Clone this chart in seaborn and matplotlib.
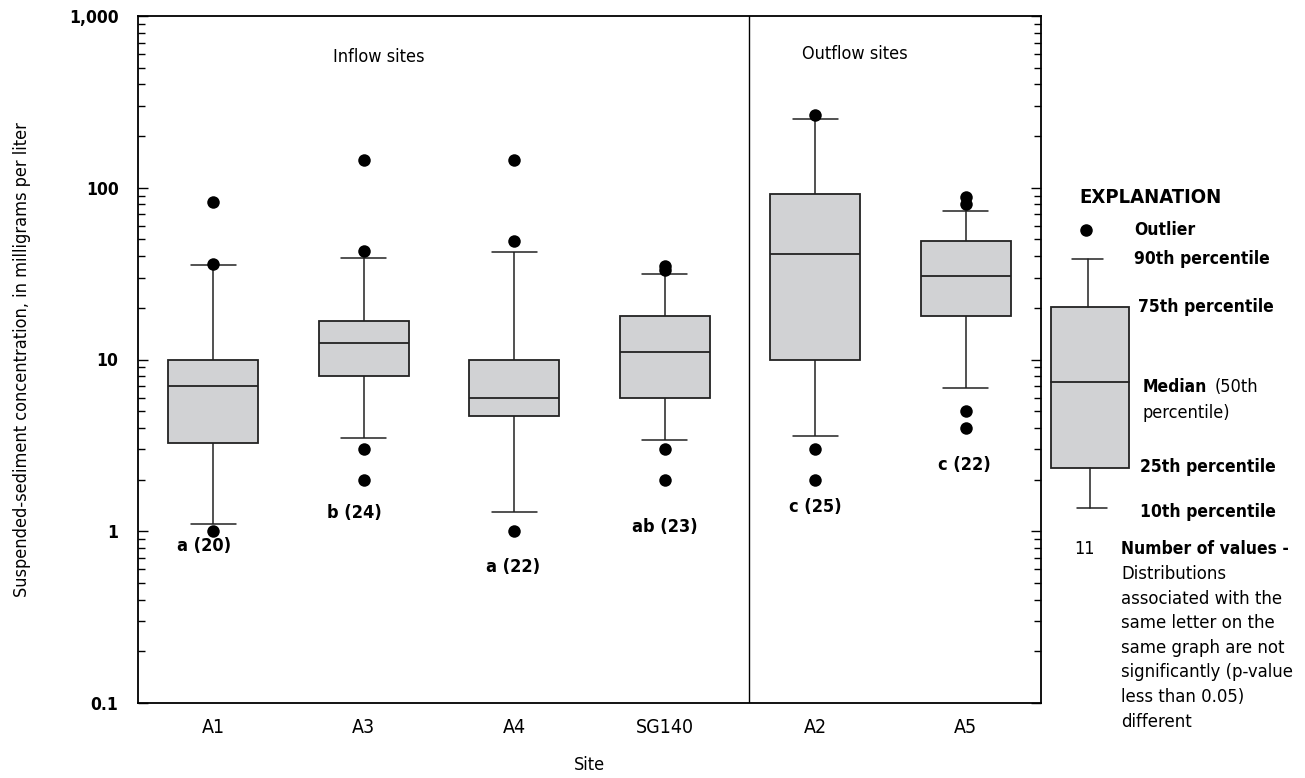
import numpy as np
import pandas as pd
import matplotlib
matplotlib.use("Agg")
import matplotlib.pyplot as plt
import seaborn as sns
from matplotlib.ticker import FixedLocator, FuncFormatter, LogLocator, NullFormatter
from matplotlib.patches import Rectangle

# ---------------- data ----------------
sites = ["A1", "A3", "A4", "SG140", "A2", "A5"]
p10 = [1.1, 3.5, 1.3, 3.4, 3.6, 6.8]
p25 = [3.25, 8.0, 4.7, 6.0, 10.0, 18.0]
p50 = [7.0, 12.4, 6.0, 11.0, 41.0, 30.5]
p75 = [10.0, 16.7, 10.0, 18.0, 92.0, 49.0]
p90 = [35.5, 39.0, 42.0, 31.5, 252.0, 73.0]
outliers = [[83, 36, 1.0], [146, 43, 3.0, 2.0], [145, 49, 1.0],
            [35, 33, 3.0, 2.0], [265, 3.0, 2.0], [88, 80, 5.0, 4.0]]
groups = ["a", "b", "a", "ab", "c", "c"]
counts = [20, 24, 22, 23, 25, 22]
ytick_vals = [0.1, 1, 10, 100, 1000]
ytick_labels = ["0.1", "1", "10", "100", "1,000"]

# ---------------- style ----------------
sns.set_theme(style="white")
plt.rcParams["font.family"] = ["DejaVu Sans"]
plt.rcParams["font.stretch"] = "condensed"
plt.rcParams["text.color"] = "black"
plt.rcParams["axes.labelcolor"] = "black"
plt.rcParams["xtick.color"] = "black"
plt.rcParams["ytick.color"] = "black"

FS = 13

rows = []
for s, a, b, c, d, e in zip(sites, p10, p25, p50, p75, p90):
    for v in (a, b, c, d, e):
        rows.append({"site": s, "value": v})
df_box = pd.DataFrame(rows)
df_out = pd.DataFrame([{"site": s, "value": v} for s, vals in zip(sites, outliers) for v in vals])

W, H = 1305, 778
fig = plt.figure(figsize=(W / 100, H / 100), dpi=100)
ax = fig.add_axes([138 / W, 1 - 703 / H, (1041 - 138) / W, (703 - 16) / H])
ax.set_yscale("log")

box_gray = "#d1d2d4"
ink = "#222222"
sns.boxplot(data=df_box, x="site", y="value", order=sites, whis=(0, 100), width=0.6,
            color=box_gray, showfliers=False, linecolor=ink, linewidth=1.3,
            saturation=1, ax=ax,
            medianprops=dict(color=ink, linewidth=1.3),
            whiskerprops=dict(color=ink, linewidth=1.1),
            capprops=dict(color=ink, linewidth=1.1))
sns.stripplot(data=df_out, x="site", y="value", order=sites, jitter=False, color="black",
              size=9, linewidth=0, ax=ax, zorder=5)

ax.set_xlim(-0.5, 5.5)
ax.set_ylim(0.1, 1000)
ax.yaxis.set_major_locator(FixedLocator(ytick_vals))
ax.yaxis.set_major_formatter(FuncFormatter(
    lambda v, p: ytick_labels[int(np.argmin([abs(np.log10(t) - np.log10(v)) for t in ytick_vals]))]))
ax.yaxis.set_minor_locator(LogLocator(base=10, subs=np.arange(2, 10)))
ax.yaxis.set_minor_formatter(NullFormatter())
ax.tick_params(axis="y", which="major", direction="in", length=7, width=1.0, left=True, right=True,
               pad=14, labelsize=12.5)
ax.tick_params(axis="y", which="minor", direction="in", length=5, width=1.0, left=True, right=True)
ax.tick_params(axis="x", length=0, pad=11, labelsize=14)
for lab in ax.get_yticklabels():
    lab.set_fontweight("bold")
for sp in ax.spines.values():
    sp.set_visible(True)
    sp.set_color("black")
    sp.set_linewidth(1.3)

ax.axvline(3.56, color="black", linewidth=1.0)
ax.set_xlabel("Site", fontsize=FS)
ax.set_ylabel("Suspended-sediment concentration, in milligrams per liter", fontsize=FS)
ax.xaxis.set_label_coords(0.5, (703 - 756) / 687)
ax.yaxis.set_label_coords((31 - 138) / 903, 0.5)

# group letters + counts
label_y = [0.82, 1.27, 0.62, 1.06, 1.39, 2.43]
label_dx = [-0.06, -0.06, -0.01, 0.0, 0.0, -0.01]
for i, (g, n) in enumerate(zip(groups, counts)):
    ax.text(i + label_dx[i], label_y[i], f"{g} ({n})", ha="center", va="center",
            fontsize=FS, fontweight="bold")

# overlay in pixel coordinates for headers and explanation
ov = fig.add_axes([0, 0, 1, 1], facecolor="none")
ov.set_xlim(0, W)
ov.set_ylim(H, 0)
ov.axis("off")
ov.text(379, 57, "Inflow sites", ha="center", va="center", fontsize=FS)
ov.text(855, 54, "Outflow sites", ha="center", va="center", fontsize=FS)

# explanation
EFS = 12.5
ov.text(1079, 197, "EXPLANATION", ha="left", va="center", fontsize=14.5, fontweight="bold")
ov.plot([1086], [230], "o", color="black", markersize=8)
ov.text(1134, 230, "Outlier", ha="left", va="center", fontsize=EFS, fontweight="bold")
ov.plot([1088, 1088], [307, 259], color=ink, lw=1.1)
ov.plot([1072, 1103], [259, 259], color=ink, lw=1.1)
ov.add_patch(Rectangle((1051, 307), 78, 161, facecolor=box_gray, edgecolor=ink, lw=1.3))
ov.plot([1051, 1129], [382, 382], color=ink, lw=1.3)
ov.plot([1090, 1090], [468, 508], color=ink, lw=1.1)
ov.plot([1077, 1107], [508, 508], color=ink, lw=1.1)
ov.text(1134, 259, "90th percentile", ha="left", va="center", fontsize=EFS, fontweight="bold")
ov.text(1138, 307, "75th percentile", ha="left", va="center", fontsize=EFS, fontweight="bold")
ov.text(1143, 387, "Median", ha="left", va="center", fontsize=EFS, fontweight="bold")
ov.text(1215, 387, "(50th", ha="left", va="center", fontsize=13)
ov.text(1143, 413, "percentile)", ha="left", va="center", fontsize=13)
ov.text(1140, 467, "25th percentile", ha="left", va="center", fontsize=EFS, fontweight="bold")
ov.text(1140, 512, "10th percentile", ha="left", va="center", fontsize=EFS, fontweight="bold")
ov.text(1085, 549, "11", ha="center", va="center", fontsize=13)
ov.text(1121, 549, "Number of values -", ha="left", va="center", fontsize=EFS, fontweight="bold")
expl_lines = ["Distributions", "associated with the", "same letter on the", "same graph are not",
              "significantly (p-value", "less than 0.05)", "different"]
for k, t in enumerate(expl_lines):
    ov.text(1121, 574 + 24.6 * k, t, ha="left", va="center", fontsize=13.2)

fig.savefig("out.png", dpi=100)
